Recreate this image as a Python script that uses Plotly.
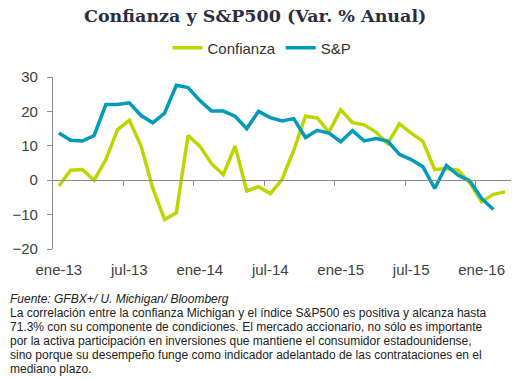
import plotly.graph_objects as go

months = ["ene", "feb", "mar", "abr", "may", "jun", "jul", "ago", "sep", "oct", "nov", "dic"]
categories = [f"{m}-{y}" for y in ["13", "14", "15", "16"] for m in months][:39]

confianza = [-1.7, 2.9, 3.1, 0.0, 6.0, 14.7, 17.4, 9.9, -2.4, -11.4, -9.5, 13.0,
             9.9, 4.8, 1.6, 9.9, -3.1, -1.9, -3.9, 0.2, 8.7, 18.6, 18.1, 14.0,
             20.5, 16.7, 16.1, 14.0, 10.6, 16.4, 13.7, 11.3, 3.1, 3.4, 2.9, -0.8,
             -6.3, -4.1, -3.4]
sp = [13.7, 11.6, 11.4, 13.0, 22.0, 22.0, 22.5, 18.8, 16.7, 19.5, 27.6, 26.9,
      23.2, 20.1, 20.1, 18.6, 15.0, 20.0, 18.2, 17.2, 17.9, 12.4, 14.5, 13.7,
      11.2, 14.4, 11.4, 12.1, 11.4, 7.5, 6.0, 3.9, -2.4, 4.3, 1.4, -0.2,
      -5.3, -8.5]

tick_labels = ["ene-13", "jul-13", "ene-14", "jul-14", "ene-15", "jul-15", "ene-16"]
tick_idx = [0, 6, 12, 18, 24, 30, 36]
boundary_ticks = [i - 0.5 for i in tick_idx[1:]]

title_text = "Confianza y S&P500 (Var. % Anual)"
source_text = "Fuente: GFBX+/ U. Michigan/ Bloomberg"
body_lines = [
    "La correlación entre la confianza Michigan y el índice S&P500 es positiva y alcanza hasta",
    "71.3% con su componente de condiciones. El mercado accionario, no sólo es importante",
    "por la activa participación en inversiones que mantiene el consumidor estadounidense,",
    "sino porque su desempeño funge como indicador adelantado de las contrataciones en el",
    "mediano plazo.",
]

GREEN = "#BED600"
BLUE = "#009BBB"
AXIS = "#8C8C8C"
FONT = "Liberation Sans, Arial, sans-serif"

x_conf = list(range(len(confianza)))
x_sp = list(range(len(sp)))

fig = go.Figure()
fig.add_trace(go.Scatter(x=x_conf, y=confianza, mode="lines", name="Confianza",
                         line=dict(color=GREEN, width=3.5)))
fig.add_trace(go.Scatter(x=x_sp, y=sp, mode="lines", name="S&P",
                         line=dict(color=BLUE, width=3.5)))
# invisible trace to activate xaxis2 (tick marks on the zero line)
fig.add_trace(go.Scatter(x=[0], y=[0], xaxis="x2", mode="none", showlegend=False,
                         hoverinfo="skip"))

W, H = 523, 379
ml, mr, mt, mb = 53, 12, 77, 130
ph = H - mt - mb
pw = W - ml - mr

def py(px_y):
    return (H - mb - px_y) / ph

def pxx(px_x):
    return (px_x - ml) / pw

fig.update_layout(
    width=W, height=H,
    margin=dict(l=ml, r=mr, t=mt, b=mb, pad=0, autoexpand=False),
    paper_bgcolor="white", plot_bgcolor="white",
    font=dict(family=FONT, color="#404040", size=15),
    showlegend=True,
    legend=dict(orientation="h", x=pxx(262), xanchor="center", y=py(48), yanchor="middle",
                font=dict(size=15, color="#333333"), itemwidth=30,
                tracegroupgap=0, bgcolor="rgba(0,0,0,0)"),
    xaxis=dict(range=[-0.5, 38.5], tickmode="array", tickvals=tick_idx, ticktext=tick_labels,
               showgrid=False, zeroline=False, showline=False, ticks="",
               ticklabelstandoff=10, automargin=False,
               tickfont=dict(size=15, color="#404040"), fixedrange=True),
    xaxis2=dict(range=[-0.5, 38.5], overlaying="x", anchor="free", side="bottom",
                position=20 / 50, tickmode="array", tickvals=boundary_ticks,
                showticklabels=False, ticks="outside", ticklen=5, tickcolor=AXIS,
                showline=True, linecolor=AXIS, linewidth=1.3, showgrid=False, zeroline=False),
    yaxis=dict(range=[-20, 30], tickvals=[-20, -10, 0, 10, 20, 30], showgrid=False,
               zeroline=False, showline=True, linecolor=AXIS, linewidth=1.3,
               ticks="outside", ticklen=5, tickcolor=AXIS, ticklabelstandoff=6,
               automargin=False, tickfont=dict(size=15, color="#404040")),
)

annotations = [
    dict(text=f"<b>{title_text}</b>", x=pxx(255), y=py(16), xref="paper", yref="paper",
         xanchor="center", yanchor="middle", showarrow=False,
         font=dict(family="DejaVu Serif, Georgia, serif", size=17.5, color="#2B2D42")),
    dict(text=f"<i>{source_text}</i>", x=pxx(8), y=py(298.5), xref="paper", yref="paper",
         xanchor="left", yanchor="middle", showarrow=False,
         font=dict(family=FONT, size=12, color="#222222")),
]
for k, line in enumerate(body_lines):
    annotations.append(dict(text=line, x=pxx(8), y=py(312.6 + 14.1 * k), xref="paper",
                            yref="paper", xanchor="left", yanchor="middle", showarrow=False,
                            font=dict(family=FONT, size=12, color="#222222")))
fig.update_layout(annotations=annotations)

fig.write_html(
    "out.html",
    config={"displayModeBar": False},
    post_script="document.body.style.margin='0';document.body.style.overflow='hidden';",
)
